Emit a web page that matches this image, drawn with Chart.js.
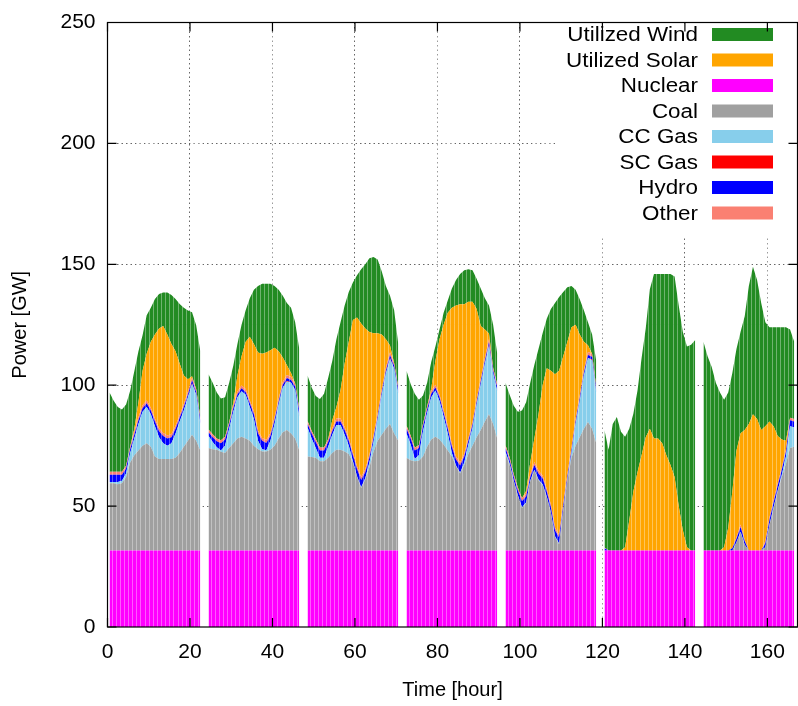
<!DOCTYPE html>
<html>
<head>
<meta charset="utf-8">
<script src="https://cdn.jsdelivr.net/npm/chart.js@4"></script>
<style>
  html, body { margin: 0; padding: 0; background: #fff; }
  #wrap { width: 798px; height: 706px; }
</style>
</head>
<body>
<div id="wrap"><canvas id="chart"></canvas></div>
<script>
// hours 0..166, one missing hour (null) at the end of each day
const hours = Array.from({length: 167}, (_, h) => h);

const nuclear = [
  31.6, 31.6, 31.6, 31.6, 31.6, 31.6, 31.6, 31.6, 31.6, 31.6, 31.6, 31.6, 31.6, 31.6, 31.6, 31.6, 31.6, 31.6, 31.6, 31.6, 31.6, 31.6, 31.6, null,
  31.6, 31.6, 31.6, 31.6, 31.6, 31.6, 31.6, 31.6, 31.6, 31.6, 31.6, 31.6, 31.6, 31.6, 31.6, 31.6, 31.6, 31.6, 31.6, 31.6, 31.6, 31.6, 31.6, null,
  31.6, 31.6, 31.6, 31.6, 31.6, 31.6, 31.6, 31.6, 31.6, 31.6, 31.6, 31.6, 31.6, 31.6, 31.6, 31.6, 31.6, 31.6, 31.6, 31.6, 31.6, 31.6, 31.6, null,
  31.6, 31.6, 31.6, 31.6, 31.6, 31.6, 31.6, 31.6, 31.6, 31.6, 31.6, 31.6, 31.6, 31.6, 31.6, 31.6, 31.6, 31.6, 31.6, 31.6, 31.6, 31.6, 31.6, null,
  31.6, 31.6, 31.6, 31.6, 31.6, 31.6, 31.6, 31.6, 31.6, 31.6, 31.6, 31.6, 31.6, 31.6, 31.6, 31.6, 31.6, 31.6, 31.6, 31.6, 31.6, 31.6, 31.6, null,
  31.6, 31.6, 31.6, 31.6, 31.6, 31.6, 31.6, 31.6, 31.6, 31.6, 31.6, 31.6, 31.6, 31.6, 31.6, 31.6, 31.6, 31.6, 31.6, 31.6, 31.6, 31.6, 31.6, null,
  31.6, 31.6, 31.6, 31.6, 31.6, 31.6, 31.6, 31.6, 31.6, 31.6, 31.6, 31.6, 31.6, 31.6, 31.6, 31.6, 31.6, 31.6, 31.6, 31.6, 31.6, 31.6, 31.6
];

const coal = [
  27.9, 27.9, 27.4, 27.9, 30.4, 36.4, 39.4, 41.4, 43.4, 44.4, 42.9, 38.9, 37.9, 37.9, 37.9, 37.9, 38.4, 40.4, 42.9, 45.4, 47.9, 45.4, 41.4, null,
  42.4, 41.9, 41.7, 40.9, 40.4, 42.4, 44.4, 46.4, 47.1, 46.4, 45.4, 43.4, 41.9, 41, 41, 41.7, 43.4, 46.4, 48.9, 49.9, 48.4, 46.4, 41.4, null,
  38.9, 38.7, 38.4, 36.9, 36.9, 38.4, 40.4, 41.7, 41.7, 41, 39.9, 36.4, 30.4, 25.9, 29.4, 34.4, 40.9, 45.4, 47.9, 50.4, 52.4, 48.4, 45.4, null,
  38.4, 37.4, 37, 37.2, 38.9, 42.9, 45.9, 47.1, 45.9, 43.9, 41.4, 38.9, 34.9, 31.9, 35.4, 39.9, 43.4, 46.9, 49.9, 53.4, 56.4, 52.4, 46.4, null,
  39.9, 35.4, 28.6, 22.6, 17.6, 19.6, 28.6, 33.1, 29.1, 27.1, 22.1, 15.6, 5.6, 2.6, 16.6, 28.9, 38.4, 43.4, 46.9, 50.4, 53.2, 50.4, 44.4, null,
  0, 0, 0, 0, 0, 0, 0, 0, 0, 0, 0, 0, 0, 0, 0, 0, 0, 0, 0, 0, 0, 0, 0, null,
  0, 0, 0, 0, 0, 0, 0, 0, 3.4, 7.5, 2.4, 0, 0, 0, 0, 1.4, 10.4, 17.4, 24.4, 30.4, 35.9, 42.4, 42.9
];

const ccGas = [
  0.5, 0.5, 1, 1, 1.5, 4, 7, 11, 14, 15, 13.5, 12.5, 9, 6.5, 5.5, 6.5, 10, 13, 15, 18, 21, 19, 11, null,
  5, 3, 1, 0.5, 3, 8, 13, 17, 18.8, 18, 14, 11, 3.5, 0.9, 0.5, 3.7, 9, 14, 18.5, 20, 21, 20, 14, null,
  12, 7.7, 4, 1.5, 1.5, 4.5, 7.5, 10.2, 10.2, 6.9, 3.5, 0.5, 0.3, 0.3, 0.5, 2, 4, 8.8, 16.3, 22.8, 26.8, 26.8, 19.5, null,
  10, 6.5, 0.9, 2.2, 10.5, 14, 17.5, 19.1, 16, 11.5, 7, 1.5, 0.3, 0.3, 1, 4, 7.3, 13.3, 18.8, 23.8, 28.3, 20.8, 19.5, null,
  1, 0.5, 0.3, 0.3, 0.3, 0.3, 0.3, 0.3, 0.3, 0.3, 0.3, 0.3, 0.3, 0.3, 0.3, 0.3, 1.8, 8.8, 14.8, 21.8, 26.5, 28.3, 20.8, null,
  0, 0, 0, 0, 0, 0, 0, 0, 0, 0, 0, 0, 0, 0, 0, 0, 0, 0, 0, 0, 0, 0, 0, null,
  0, 0, 0, 0, 0, 0, 0, 0, 0, 0.3, 0, 0, 0, 0, 0, 0, 0.3, 0.5, 0.5, 1, 3, 9, 8
];

const scGas = [
  0, 0, 0, 0, 0, 0, 0, 0, 0, 0, 0, 0, 0, 0, 0, 0, 0, 0, 0, 0, 0.3, 0, 0, null,
  0, 0, 0, 0, 0, 0, 0, 0, 0, 0, 0, 0, 0, 0, 0, 0, 0, 0, 0, 0.3, 0, 0, 0, null,
  0, 0, 0, 0, 0, 0, 0, 0, 0, 0, 0, 0, 0, 0, 0, 0, 0, 0, 0, 0, 0.4, 0, 0, null,
  0, 0, 0, 0, 0, 0, 0, 0, 0, 0, 0, 0, 0, 0, 0, 0, 0, 0, 0, 0, 0.4, 0, 0, null,
  0, 0, 0, 0, 0, 0, 0, 0, 0, 0, 0, 0, 0, 0, 0, 0, 0, 0, 0, 0, 0, 0.3, 0, null,
  0, 0, 0, 0, 0, 0, 0, 0, 0, 0, 0, 0, 0, 0, 0, 0, 0, 0, 0, 0, 0, 0, 0, null,
  0, 0, 0, 0, 0, 0, 0, 0, 0, 0, 0, 0, 0, 0, 0, 0, 0, 0, 0, 0, 0, 0, 0
];

const hydro = [
  3, 3, 3, 2.5, 2, 1.5, 1.5, 1.5, 1.5, 1.5, 1.5, 2, 2.5, 3, 3, 2.5, 2, 1.5, 1.5, 1.2, 1.2, 1.2, 1.5, null,
  1.5, 2, 2.5, 3, 2.5, 1.5, 1.5, 1.2, 1.2, 1.2, 1.5, 2, 3, 3.5, 3, 2, 1.5, 1.2, 1.2, 1.2, 1.2, 1.5, 2, null,
  1.5, 2, 2.5, 3, 3, 2, 1.5, 1.5, 1.5, 2, 2, 2.5, 3, 3, 2.5, 2, 1.5, 1.2, 1.2, 1.2, 1.2, 1.2, 1.5, null,
  2, 2.5, 3.5, 3, 2, 1.5, 1.5, 1.2, 1.5, 1.5, 2, 2.5, 2.5, 3, 2.5, 1.5, 1.2, 1.2, 1.2, 1.2, 1.2, 1.2, 1.5, null,
  1.5, 1.5, 1.5, 2, 2.5, 2.5, 1.5, 2, 2.5, 2.5, 2, 2, 2.5, 2.5, 1.5, 1.2, 1.2, 1.2, 1.2, 1.2, 1.2, 1.2, 1.2, null,
  1, 0, 0, 0, 0, 0, 0, 0, 0, 0, 0, 0, 0, 0, 0, 0, 0, 0, 0, 0, 0, 0, 0, null,
  0, 0, 0, 0, 0, 0, 0, 1, 1.5, 2, 1.5, 0, 0, 0, 0, 1.5, 2, 2, 2, 2, 2, 2.5, 2.5
];

const other = [
  1.2, 1.2, 1.2, 1.2, 1.2, 1.2, 1.2, 1.2, 1.2, 1.2, 1.2, 1.2, 1.2, 1.2, 1.2, 1.2, 1.2, 1.2, 1.2, 1.2, 1.2, 1.2, 1.2, null,
  1.2, 1.2, 1.2, 1.2, 1.2, 1.2, 1.2, 1.2, 1.2, 1.2, 1.2, 1.2, 1.2, 1.2, 1.2, 1.2, 1.2, 1.2, 1.2, 1.2, 1.2, 1.2, 1.2, null,
  1.2, 1.2, 1.2, 1.2, 1.2, 1.2, 1.2, 1.2, 1.2, 1.2, 1.2, 1.2, 1.2, 1.2, 1.2, 1.2, 1.2, 1.2, 1.2, 1.2, 1.2, 1.2, 1.2, null,
  1.2, 1.2, 1.2, 1.2, 1.2, 1.2, 1.2, 1.2, 1.2, 1.2, 1.2, 1.2, 1.2, 1.2, 1.2, 1.2, 1.2, 1.2, 1.2, 1.2, 1.2, 1.2, 1.2, null,
  1.2, 1.2, 1.2, 1.2, 1.2, 1.2, 1.2, 1.2, 1.2, 1.2, 1.2, 1.2, 1.2, 1.2, 1.2, 1.2, 1.2, 1.2, 1.2, 1.2, 1.2, 1.2, 1.2, null,
  0.3, 0, 0, 0, 0, 0, 0, 0, 0, 0, 0, 0, 0, 0, 0, 0, 0, 0, 0, 0, 0, 0, 0, null,
  0, 0, 0, 0, 0, 0, 0, 0, 0.5, 1, 0.5, 0, 0, 0, 0, 1, 1, 1, 1, 1, 1, 1, 1
];

const solar = [
  0, 0, 0, 0, 0, 0, 1.3, 6.3, 14.3, 19.3, 27.3, 34.8, 41.3, 44.3, 41.8, 37.3, 30.8, 21.3, 11.8, 5.1, 0.5, 0, 0, null,
  0, 0, 0, 0, 0, 0, 1, 6.6, 12.1, 19.6, 26.3, 27.8, 32.3, 34.8, 36.2, 34.3, 28.8, 19.6, 10.1, 4.1, 1.6, 0, 0, null,
  0, 0, 0, 0, 0, 0, 3.3, 4.8, 11.8, 26.3, 39.8, 54.8, 61.5, 63.5, 58.3, 50.8, 42.3, 33.3, 22.8, 11.8, 2.8, 0, 0, null,
  0, 0, 0, 0, 0, 0, 1, 9.8, 22.8, 35.3, 46.8, 56.3, 62.5, 65.5, 61.8, 56.3, 49.8, 37.3, 21.8, 11.8, 2.3, 0, 0, null,
  0, 0, 0, 0, 0, 1, 4.8, 9.8, 23.3, 37.3, 49.8, 55.3, 63.3, 67.8, 60.8, 54.8, 49.8, 38.8, 25.3, 11.8, 2.8, 0, 0, null,
  0, 0, 0, 0, 0, 1.4, 12.4, 24.4, 32.4, 39.4, 46.9, 50.4, 46.4, 46.4, 44.4, 39.4, 35.4, 30.4, 18.4, 8.4, 1.4, 0, 0, null,
  0, 0, 0, 0, 0, 1.4, 9.4, 23.4, 36, 37.7, 45.5, 52.4, 56.4, 54.4, 49.9, 47.5, 39.7, 30.5, 19.5, 11.5, 3.5, 0, 0
];

const wind = [
  32.8, 29.4, 26.8, 25.8, 25.3, 23, 23.8, 21, 14.7, 15.9, 14, 14.6, 14.2, 13.8, 17.3, 20.3, 21.6, 24.6, 28, 28.4, 26.5, 26.4, 27.3, null,
  22.8, 21.3, 19, 17.3, 16.3, 16.3, 15.3, 13, 13, 13, 16, 22.5, 27.5, 29, 28.5, 27.5, 25.5, 25.5, 25.5, 25.7, 27, 25.3, 24.8, null,
  18.8, 17.8, 17.8, 20.1, 22.3, 25.3, 24.5, 28, 28, 24, 20.5, 15.5, 17.5, 22.5, 26.5, 30.5, 31.5, 30.5, 26, 22, 20.6, 21.8, 17.8, null,
  22.8, 21.3, 22.3, 18.8, 11.5, 9.8, 11, 6, 4, 5, 5, 8, 10.5, 12.5, 14, 13.5, 13, 12.5, 15.5, 13, 11.6, 17.8, 12.8, null,
  25.8, 25.8, 28.3, 31.3, 36.3, 36.8, 33, 30.5, 27, 21.5, 20.5, 25.5, 29.5, 30.5, 26.5, 22.5, 17, 14.5, 14.5, 13, 9.5, 8, 10.8, null,
  48.5, 41.7, 52.4, 55.3, 49.2, 45.7, 38, 32.2, 33.7, 40.2, 44.9, 57.7, 68, 68, 70, 75, 79, 83, 83, 82, 83, 85.1, 87.1, null,
  86.4, 80.4, 75.9, 69.4, 65.4, 61, 56, 49, 42, 42, 47, 57, 61, 57.5, 52.5, 43, 39, 41, 45, 46.5, 47, 36.5, 32
];

const xTicks = [0, 20, 40, 60, 80, 100, 120, 140, 160];
const yTicks = [0, 50, 100, 150, 200, 250];

// bottom of the stack first
const series = [
  { label: 'Nuclear', data: nuclear, color: '#ff00ff' },
  { label: 'Coal', data: coal, color: '#a0a0a0' },
  { label: 'CC Gas', data: ccGas, color: '#87ceeb' },
  { label: 'SC Gas', data: scGas, color: '#ff0000' },
  { label: 'Hydro', data: hydro, color: '#0000ff' },
  { label: 'Other', data: other, color: '#fa8072' },
  { label: 'Utilized Solar', data: solar, color: '#ffa500' },
  { label: 'Utilized Wind', data: wind, color: '#228b22' }
];
const legendOrder = ['Utilized Wind', 'Utilized Solar', 'Nuclear', 'Coal', 'CC Gas', 'SC Gas', 'Hydro', 'Other'];

const FONT = '"Liberation Sans", Arial, sans-serif';

// faint white seams at every hour, like the box edges in the original
const seams = {
  id: 'seams',
  afterDatasetsDraw(chart) {
    const ctx = chart.ctx;
    const a = chart.chartArea;
    const xs = chart.scales.x;
    ctx.save();
    ctx.strokeStyle = 'rgba(255,255,255,0.35)';
    ctx.lineWidth = 1;
    ctx.beginPath();
    hours.forEach(h => {
      const px = Math.round(xs.getPixelForValue(h)) + 0.5;
      ctx.moveTo(px, a.top);
      ctx.lineTo(px, a.bottom);
    });
    ctx.stroke();
    ctx.restore();
  }
};

const frame = {
  id: 'frame',
  afterDraw(chart) {
    const ctx = chart.ctx;
    const a = chart.chartArea;
    const xs = chart.scales.x, ys = chart.scales.y;
    ctx.save();

    // key box (white backing, text right aligned, colour swatch on the right)
    ctx.fillStyle = '#fff';
    ctx.fillRect(557, a.top + 1, a.right - 558, 214);
    ctx.font = '20px ' + FONT;
    ctx.textAlign = 'right';
    ctx.textBaseline = 'middle';
    legendOrder.forEach((name, i) => {
      const ds = chart.data.datasets.find(d => d.label === name);
      const y = 34.5 + i * 25.5;
      ctx.save();
      ctx.translate(698, y);
      ctx.scale(1.12, 1);
      ctx.fillStyle = '#000';
      ctx.fillText(name, 0, 1);
      ctx.restore();
      ctx.fillStyle = ds.backgroundColor;
      ctx.fillRect(712, y - 6.5, 61, 13);
    });

    // border and inward tick marks on all four sides
    ctx.strokeStyle = '#000';
    ctx.lineWidth = 1.2;
    ctx.strokeRect(a.left, a.top, a.right - a.left, a.bottom - a.top);
    ctx.beginPath();
    xTicks.forEach(v => {
      const px = xs.getPixelForValue(v);
      ctx.moveTo(px, a.bottom); ctx.lineTo(px, a.bottom - 9);
      ctx.moveTo(px, a.top); ctx.lineTo(px, a.top + 9);
    });
    yTicks.forEach(v => {
      const py = ys.getPixelForValue(v);
      ctx.moveTo(a.left, py); ctx.lineTo(a.left + 9, py);
      ctx.moveTo(a.right, py); ctx.lineTo(a.right - 9, py);
    });
    ctx.stroke();
    ctx.restore();
  }
};

new Chart(document.getElementById('chart'), {
  type: 'line',
  data: {
    datasets: series.map((s, k) => ({
      label: s.label,
      data: hours.map((h, i) => ({ x: h + 0.5, y: s.data[i] })),
      backgroundColor: s.color,
      borderColor: s.color,
      borderWidth: 0,
      pointRadius: 0,
      tension: 0,
      spanGaps: false,
      fill: k === 0 ? 'origin' : '-1'
    }))
  },
  options: {
    responsive: true,
    maintainAspectRatio: false,
    animation: false,
    layout: { padding: { left: 0, right: 0.5, top: 12, bottom: 0 } },
    plugins: {
      legend: { display: false },
      tooltip: { enabled: false }
    },
    scales: {
      x: {
        type: 'linear',
        offset: false,
        min: 0,
        max: 167.3,
        z: 1,
        afterFit: s => { s.height = 79; },
        ticks: {
          stepSize: 20,
          includeBounds: false,
          color: '#000',
          padding: 13,
          font: { family: FONT, size: 21 }
        },
        grid: {
          drawTicks: false,
          color: c => (c.tick && c.tick.value > 0 ? '#666' : 'rgba(0,0,0,0)')
        },
        border: { display: false, dash: [1.5, 3] },
        title: {
          display: true,
          text: 'Time [hour]',
          color: '#000',
          padding: { top: 0, bottom: 4 },
          font: { family: FONT, size: 20 }
        }
      },
      y: {
        stacked: true,
        min: 0,
        max: 250,
        z: 1,
        afterFit: s => { s.width = 107.5; },
        ticks: {
          stepSize: 50,
          color: '#000',
          padding: 12,
          font: { family: FONT, size: 21, lineHeight: 1 }
        },
        grid: {
          drawTicks: false,
          color: c => (c.tick && c.tick.value > 0 && c.tick.value < 250 ? '#666' : 'rgba(0,0,0,0)')
        },
        border: { display: false, dash: [1.5, 3] },
        title: {
          display: true,
          text: 'Power [GW]',
          color: '#000',
          padding: { top: 8, bottom: 0 },
          font: { family: FONT, size: 20 }
        }
      }
    }
  },
  plugins: [seams, frame]
});
</script>
</body>
</html>
